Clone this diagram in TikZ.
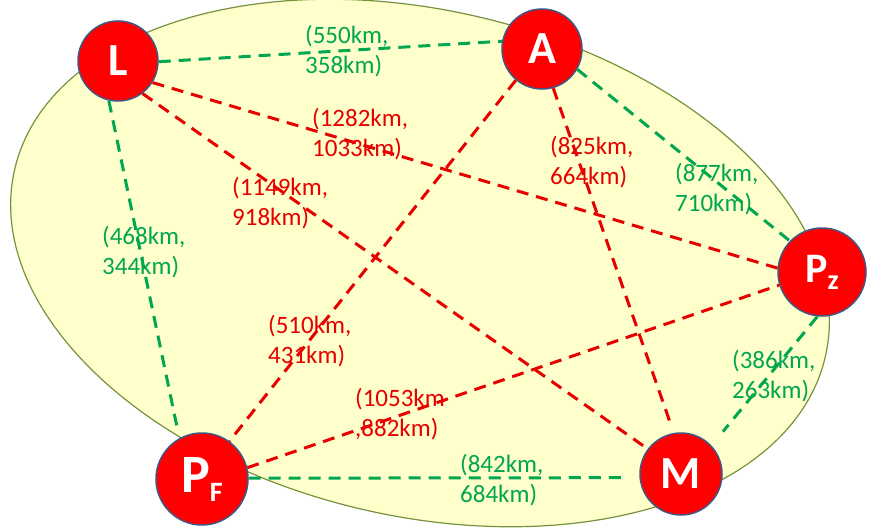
\documentclass[tikz,border=0pt]{standalone}
\usepackage{fontspec}
\setmainfont{Carlito}
\usepackage{tikz}
\usepackage{xcolor}
\definecolor{roadgreen}{RGB}{0,166,80}
\definecolor{roadred}{RGB}{230,0,0}
\definecolor{fieldfill}{RGB}{255,255,204}
\definecolor{fieldline}{RGB}{118,146,60}
\definecolor{townfill}{RGB}{255,0,0}
\definecolor{townline}{RGB}{65,88,135}
\tikzset{
  town/.style={circle, draw=townline, line width=1.5pt, fill=townfill, text=white,
    font=\fontsize{46}{46}\selectfont\bfseries, inner sep=0pt},
  road/.style={line width=3pt, dash pattern=on 12pt off 8pt},
  km/.style={anchor=north west, align=left, inner sep=0pt,
    font=\fontsize{25}{30}\selectfont}
}
\newcommand{\townsub}[2]{\raisebox{-#2}{\fontsize{28}{28}\selectfont #1}}

\begin{document}
\begin{tikzpicture}[x=1pt, y=-1pt]
  \useasboundingbox (0,0) rectangle (869,527);
  % region
  \draw[fieldline, fill=fieldfill, line width=1.2pt, rotate around={-13:(420,263)}]
    (420,263) ellipse [x radius=416, y radius=253];
  % towns
  \node[town, minimum size=80pt] (L) at (118,61) {L};
  \node[town, minimum size=80pt] (A) at (542,49) {A};
  \node[town, minimum size=88pt, font=\fontsize{42}{42}\selectfont\bfseries] (Pz) at (822,272) {P\townsub{z}{7pt}};
  \node[town, minimum size=82pt] (M) at (681,474) {M};
  \node[town, minimum size=92pt, font=\fontsize{54}{54}\selectfont\bfseries] (PF) at (202,479) {P\townsub{F}{9pt}};
  % green roads
  \draw[road, roadgreen] (L.-1) -- (A.169);
  \draw[road, roadgreen, shorten >=13pt] (L.-103) -- (PF.119);
  \draw[road, roadgreen] (A.-30) -- (Pz.136);
  \draw[road, roadgreen, shorten >=18pt] (Pz.-96) -- (M.43);
  \draw[road, roadgreen, shorten >=17pt] (PF.1) -- (M.185);
  % red roads
  \draw[road, roadred] (L.-32) -- (Pz.175);
  \draw[road, roadred] (L.-53) -- (M.143);
  \draw[road, roadred] (A.-130) -- (PF.54);
  \draw[road, roadred, shorten >=9pt] (A.-74) -- (M.100);
  \draw[road, roadred] (PF.14) -- (Pz.197);
  % distances
  \node[km, roadgreen] (dLA) at (305,25) {(550km,\\358km)};
  \node[km, roadgreen] (dLPF) at (102,226) {(468km,\\344km)};
  \node[km, roadgreen] (dAPz) at (675,163) {(877km,\\710km)};
  \node[km, roadgreen] (dPzM) at (732,350) {(386km,\\263km)};
  \node[km, roadgreen] (dPFM) at (460,454) {(842km,\\684km)};
  \node[km, roadred] (dLPz) at (312,108) {(1282km,\\1033km)};
  \node[km, roadred] (dLM) at (232,177) {(1149km,\\918km)};
  \node[km, roadred] (dAM) at (550,136) {(825km,\\664km)};
  \node[km, roadred] (dAPF) at (268,315) {(510km,\\431km)};
  \node[km, roadred] (dPFPz) at (355,388) {(1053km\\,882km)};
\end{tikzpicture}
\end{document}
